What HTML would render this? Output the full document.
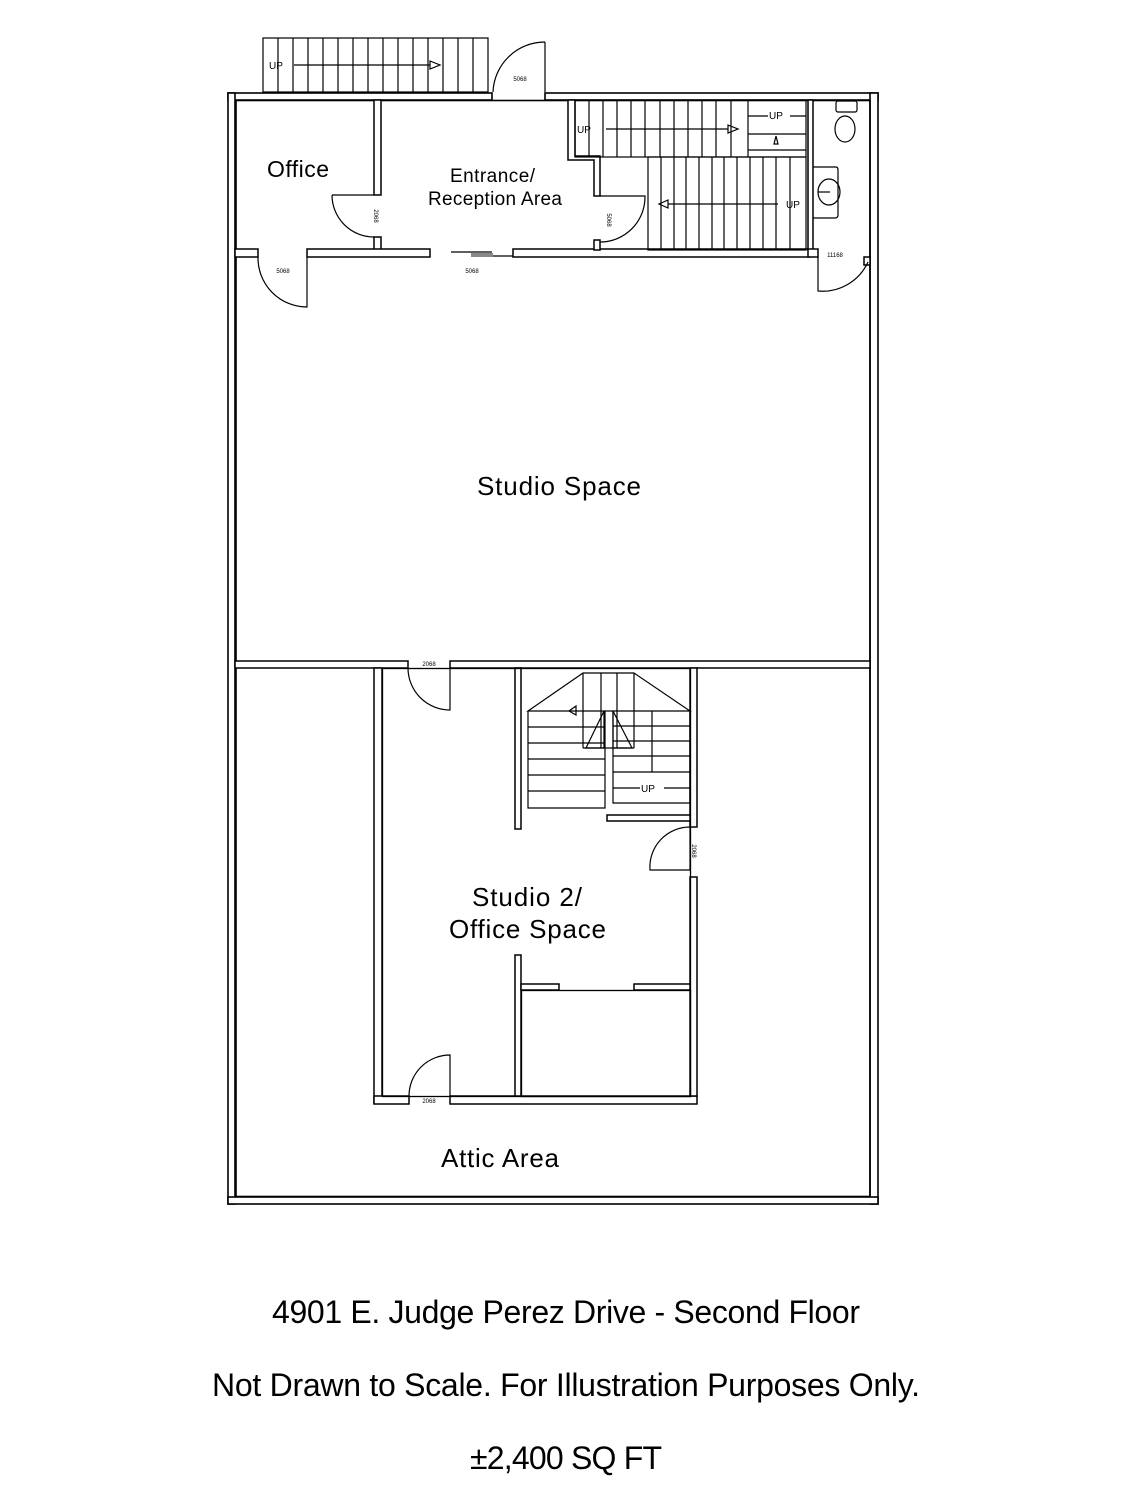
<!DOCTYPE html>
<html><head><meta charset="utf-8"><style>
html,body{margin:0;padding:0;background:#fff;}
svg{display:block}
text{font-family:"Liberation Sans",Arial,sans-serif;fill:#000}
</style></head><body>
<svg width="1132" height="1500" viewBox="0 0 1132 1500" xmlns="http://www.w3.org/2000/svg">
<g fill="#fff" stroke="#000" stroke-width="1.6">
<rect x="228" y="93" width="264" height="7"/>
<rect x="545" y="93" width="333" height="7"/>
<rect x="228" y="93" width="7" height="1111"/>
<rect x="870" y="93" width="8" height="1111"/>
<rect x="228" y="1197" width="650" height="7"/>
<rect x="236" y="100.5" width="634" height="1096" fill="none"/>
</g>
<g fill="#fff" stroke="#000" stroke-width="1.5">
<rect x="374" y="100" width="7" height="95"/>
<rect x="374" y="237" width="7" height="13"/>
<rect x="235" y="249" width="23" height="8"/>
<rect x="307" y="249" width="123" height="8"/>
<rect x="513" y="249" width="297" height="8"/>
<path d="M568,100 V160 H594 V196 H600 V156 H575 V100 Z"/>
<rect x="594" y="240" width="6" height="10"/>
<rect x="808" y="100" width="5" height="150"/>
<rect x="808" y="249" width="10" height="8"/>
<rect x="864" y="257" width="6" height="8"/>
<rect x="235" y="661" width="173" height="7"/>
<rect x="450" y="661" width="420" height="7"/>
<rect x="374" y="668" width="8" height="435"/>
<rect x="374" y="1096" width="35" height="8"/>
<rect x="450" y="1096" width="247" height="8"/>
<rect x="690" y="668" width="7" height="159"/>
<rect x="690" y="877" width="7" height="219"/>
<rect x="515" y="668" width="6" height="161"/>
<rect x="607" y="815" width="83" height="6"/>
<rect x="515" y="955" width="6" height="141"/>
<rect x="521" y="984" width="38" height="6"/>
<rect x="634" y="984" width="56" height="6"/>
</g>
<rect x="382.5" y="668.5" width="308" height="428" fill="none" stroke="#000" stroke-width="1.3"/>
<rect x="521.5" y="990.5" width="169" height="106" fill="none" stroke="#000" stroke-width="1.3"/>
<g fill="none" stroke="#000" stroke-width="1.2">
<rect x="263" y="38" width="225" height="54"/>
<path d="M278,38V92M293,38V92M308,38V92M323,38V92M338,38V92M353,38V92M368,38V92M383,38V92M398,38V92M413,38V92M428,38V92M443,38V92M458,38V92M473,38V92"/>
<path d="M294,65H430"/><path d="M430,61L440,65L430,69Z"/>
<path d="M545,42V92"/><path d="M493,92A52,52 0 0 1 545,42"/>
<path d="M332,195H374"/><path d="M332,195A42,42 0 0 0 374,237"/>
<path d="M258,257A49,49 0 0 0 307,307V257"/>
<path d="M451,252H492M492,256H513"/>
<rect x="471" y="253" width="22" height="4" fill="#888" stroke="none"/>
<path d="M600,196H645A45,45 0 0 1 600,242"/>
<rect x="575" y="100" width="231" height="57"/>
<path d="M589,100V157M603,100V157M617,100V157M631,100V157M645,100V157M660,100V157M674,100V157M688,100V157M702,100V157M716,100V157M748,100V157M731,100V157"/>
<path d="M748,116H768M790,116H806M748,134H806M748,150H806"/>
<path d="M606,129H728"/><path d="M728,125L738,129L728,133Z"/>
<path d="M776,136L774,144L778,144Z"/>
<rect x="648" y="157" width="158" height="93"/>
<path d="M661,157V250M674,157V250M686,157V250M699,157V250M712,157V250M724,157V250M737,157V250M750,157V250M763,157V250M776,157V250M790,157V250"/>
<path d="M668,204H778"/><path d="M668,200L659,204L668,208Z"/>
<rect x="836" y="101" width="21" height="11" rx="2"/>
<ellipse cx="845" cy="129" rx="10" ry="13"/>
<path d="M813,167H836Q838,167 838,170V215Q838,218 835,218H813"/>
<ellipse cx="829" cy="192" rx="11" ry="13"/>
<path d="M818,192H830"/>
<path d="M818,257V291A50,50 0 0 0 868,262"/>
<path d="M450,668V710A42,42 0 0 1 408,668"/>
<path d="M690,827V870H650A40,40 0 0 1 690,827"/>
<path d="M450,1096V1055A41,41 0 0 0 409,1096"/>
<path d="M583,673H634L690,711H528Z"/>
<path d="M583,673V748M601,673V748M617,673V748M634,673V748M583,748H634"/>
<path d="M528,711V808H605V711M528,727H605M528,743H605M528,759H605M528,775H605M528,791H605"/>
<path d="M613,711V803H690V711M613,726H690M613,741H690M613,756H690M613,772H690M613,788H640M664,788H690M652,711V772"/>
<path d="M604,711L586,748H604ZM613,711L632,748H613Z"/>
<path d="M576,706L569,711L576,715Z"/>
</g>
<g font-size="6" text-anchor="middle">
<text x="520" y="81">5068</text>
<text x="283" y="273">5068</text>
<text x="472" y="273">5068</text>
<text x="835" y="257">11168</text>
<text x="429" y="666">2068</text>
<text x="429" y="1103">2068</text>
<text transform="translate(374,216) rotate(90)">2068</text>
<text transform="translate(607,220) rotate(90)">5068</text>
<text transform="translate(692,851) rotate(90)">2068</text>
</g>
<g font-size="10">
<text x="269" y="69">UP</text>
<text x="577" y="133">UP</text>
<text x="769" y="119">UP</text>
<text x="786" y="208">UP</text>
<text x="641" y="792">UP</text>
</g>
<g lengthAdjust="spacingAndGlyphs">
<text x="267" y="177" textLength="62" font-size="23">Office</text>
<text x="450" y="182" textLength="85" font-size="19">Entrance/</text>
<text x="428" y="205" textLength="134" font-size="19">Reception Area</text>
<text x="477" y="495" textLength="164" font-size="26">Studio Space</text>
<text x="472" y="906" textLength="110" font-size="26">Studio 2/</text>
<text x="449" y="938" textLength="157" font-size="26">Office Space</text>
<text x="441" y="1167" textLength="118" font-size="26">Attic Area</text>
</g>
<g font-size="32" lengthAdjust="spacingAndGlyphs">
<text x="272" y="1323" textLength="588">4901 E. Judge Perez Drive - Second Floor</text>
<text x="212" y="1396" textLength="708">Not Drawn to Scale. For Illustration Purposes Only.</text>
<text x="470" y="1469" textLength="192">±2,400 SQ FT</text>
</g>
</svg>
</body></html>
